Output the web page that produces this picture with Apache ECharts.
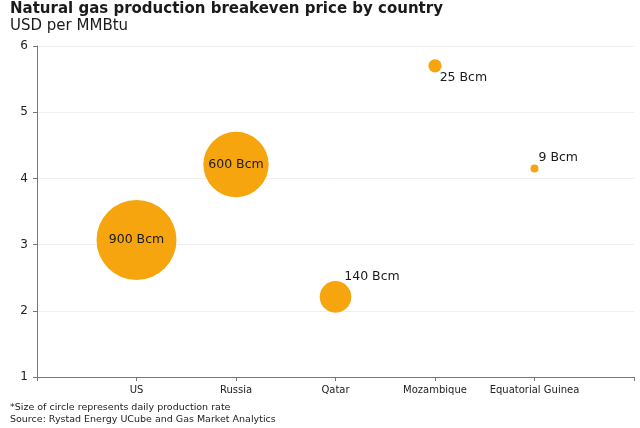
<!DOCTYPE html>
<html>
<head>
<meta charset="utf-8">
<script src="https://cdn.jsdelivr.net/npm/echarts@6/dist/echarts.min.js"></script>
<style>
  html, body { margin: 0; padding: 0; background: #fff; }
  #chart { width: 640px; height: 428px; }
</style>
</head>
<body>
<div id="chart"></div>
<script>
// categories sit at x = 1..5 on a 0..6 value axis
var countries = ['US', 'Russia', 'Qatar', 'Mozambique', 'Equatorial Guinea'];
var breakeven = [3.07, 4.21, 2.21, 5.70, 4.15];   // USD per MMBtu
var production = [900, 600, 140, 25, 9];          // Bcm

var chart = echarts.init(document.getElementById('chart'));
var font = 'DejaVu Sans, Verdana, sans-serif';

function bubbleSize(v) {
  return 80 * Math.sqrt(v / 900);
}

var points = countries.map(function (c, i) {
  var lbl;
  if (i < 2) {
    lbl = { position: 'inside' };
  } else if (i === 2) {
    lbl = { position: 'right', offset: [-12, -20] };
  } else if (i === 3) {
    lbl = { position: 'right', offset: [-7, 12] };
  } else {
    lbl = { position: 'right', offset: [-5, -11] };
  }
  return {
    value: [i + 1, breakeven[i], production[i]],
    label: lbl
  };
});

var option = {
  animation: false,
  title: [{
    text: 'Natural gas production breakeven price by country',
    left: 10,
    top: 2,
    padding: 0,
    textStyle: { fontFamily: font, fontSize: 15, fontWeight: 'bold', color: '#1a1a1a' }
  }, {
    text: 'USD per MMBtu',
    left: 10,
    top: 19,
    padding: 0,
    textStyle: { fontFamily: font, fontSize: 15, fontWeight: 'normal', color: '#1a1a1a' }
  }, {
    text: '*Size of circle represents daily production rate\nSource: Rystad Energy UCube and Gas Market Analytics',
    left: 10,
    top: 402,
    padding: 0,
    textStyle: { fontFamily: font, fontSize: 9.5, fontWeight: 'normal', color: '#222', lineHeight: 12 }
  }],
  grid: {
    left: 37,
    right: 6,
    top: 46,
    bottom: 51
  },
  xAxis: {
    type: 'value',
    min: 0,
    max: 6,
    interval: 1,
    axisLine: { show: true, onZero: false, lineStyle: { color: '#777' } },
    axisTick: { show: true, length: 4, lineStyle: { color: '#777' } },
    splitLine: { show: false },
    axisLabel: {
      fontFamily: font,
      fontSize: 10,
      color: '#222',
      margin: 8,
      formatter: function (v) {
        return countries[v - 1] || '';
      }
    }
  },
  yAxis: {
    type: 'value',
    min: 1,
    max: 6,
    interval: 1,
    axisLine: { show: true, lineStyle: { color: '#777' } },
    axisTick: { show: true, length: 4, lineStyle: { color: '#777' } },
    splitLine: { show: true, lineStyle: { color: '#efefef' } },
    axisLabel: { fontFamily: font, fontSize: 12, color: '#222', margin: 9 }
  },
  series: [{
    type: 'scatter',
    data: points,
    symbolSize: function (val) {
      return bubbleSize(val[2]);
    },
    itemStyle: { color: '#F6A50F', opacity: 1 },
    label: {
      show: true,
      fontFamily: font,
      fontSize: 12.5,
      color: '#1a1a1a',
      formatter: function (p) {
        return p.value[2] + ' Bcm';
      }
    }
  }]
};

chart.setOption(option);
</script>
</body>
</html>
